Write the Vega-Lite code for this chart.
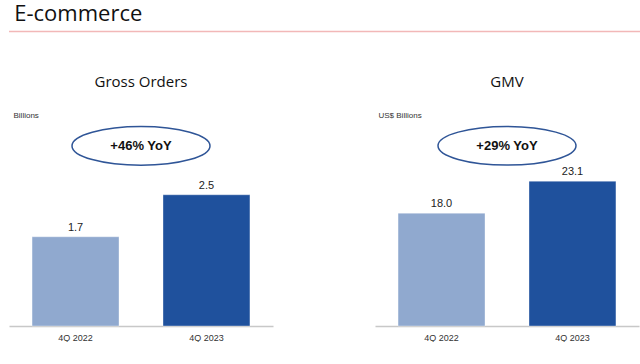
{
  "$schema": "https://vega.github.io/schema/vega-lite/v6.json",
  "background": "white",
  "padding": {"left": 8, "top": 2, "right": 0, "bottom": 0},
  "spacing": 42,
  "config": {
    "view": {"stroke": null},
    "font": "Liberation Sans"
  },
  "vconcat": [
    {
      "title": {"text": "E-commerce", "anchor": "start", "font": "Open Sans", "fontSize": 22, "fontWeight": "normal", "color": "#111111", "offset": 5, "dx": 6},
      "width": 632,
      "height": 1,
      "data": {"values": [{"a": 0, "b": 1}]},
      "mark": {"type": "rule", "color": "#F2B8B8", "strokeWidth": 1.5},
      "encoding": {
        "x": {"field": "a", "type": "quantitative", "scale": {"domain": [0, 1]}, "axis": null},
        "x2": {"field": "b"}
      }
    },
    {
      "spacing": 102,
      "hconcat": [
        {
          "title": {"text": "Gross Orders", "font": "Open Sans", "fontSize": 15, "fontWeight": "normal", "color": "#111111", "offset": 21},
          "width": 264,
          "height": 210,
          "data": {"values": [
            {"period": "4Q 2022", "value": 1.7, "label": "1.7"},
            {"period": "4Q 2023", "value": 2.5, "label": "2.5"}
          ]},
          "layer": [
            {
              "mark": {"type": "bar", "stroke": "#FFFFFF", "strokeWidth": 0.6, "strokeOpacity": 0.6},
              "encoding": {
                "x": {"field": "period", "type": "nominal", "scale": {"paddingInner": 0.336, "paddingOuter": 0.176},
                      "axis": {"title": null, "labelAngle": 0, "ticks": false, "domainColor": "#C8C8C8", "domainWidth": 1.5, "labelFontSize": 9, "labelColor": "#333333", "labelPadding": 7}},
                "y": {"field": "value", "type": "quantitative", "scale": {"domain": [0, 4], "nice": false},
                      "axis": {"title": "Billions", "titleAngle": 0, "titleAlign": "left", "titleBaseline": "middle", "titleX": 4, "titleY": -1, "titleFontSize": 8, "titleFontWeight": "normal", "titleColor": "#333333", "labels": false, "ticks": false, "domain": false, "grid": false}},
                "color": {"field": "period", "type": "nominal", "scale": {"domain": ["4Q 2022", "4Q 2023"], "range": ["#90A9CF", "#1F519D"]}, "legend": null}
              }
            },
            {
              "mark": {"type": "text", "dy": -9, "fontSize": 11, "color": "#222222"},
              "encoding": {
                "x": {"field": "period", "type": "nominal"},
                "y": {"field": "value", "type": "quantitative"},
                "text": {"field": "label"}
              }
            },
            {
              "data": {"values": [{"y": 3.43, "t": "+46% YoY"}]},
              "layer": [
                {
                  "mark": {"type": "point", "clip": true, "shape": "M -1 0 A 1 0.28 0 1 1 1 0 A 1 0.28 0 1 1 -1 0 Z", "size": 19044, "filled": false, "stroke": "#2F5597", "strokeWidth": 1.5, "opacity": 1},
                  "encoding": {"y": {"field": "y", "type": "quantitative"}}
                },
                {
                  "mark": {"type": "text", "fontSize": 13, "fontWeight": "bold", "color": "#111111"},
                  "encoding": {"y": {"field": "y", "type": "quantitative"}, "text": {"field": "t"}}
                }
              ]
            }
          ]
        },
        {
          "title": {"text": "GMV", "font": "Open Sans", "fontSize": 15, "fontWeight": "normal", "color": "#111111", "offset": 21},
          "width": 264,
          "height": 210,
          "data": {"values": [
            {"period": "4Q 2022", "value": 18.0, "label": "18.0"},
            {"period": "4Q 2023", "value": 23.1, "label": "23.1"}
          ]},
          "layer": [
            {
              "mark": {"type": "bar", "stroke": "#FFFFFF", "strokeWidth": 0.6, "strokeOpacity": 0.6},
              "encoding": {
                "x": {"field": "period", "type": "nominal", "scale": {"paddingInner": 0.336, "paddingOuter": 0.176},
                      "axis": {"title": null, "labelAngle": 0, "ticks": false, "domainColor": "#C8C8C8", "domainWidth": 1.5, "labelFontSize": 9, "labelColor": "#333333", "labelPadding": 7}},
                "y": {"field": "value", "type": "quantitative", "scale": {"domain": [0, 33.5], "nice": false},
                      "axis": {"title": "US$ Billions", "titleAngle": 0, "titleAlign": "left", "titleBaseline": "middle", "titleX": 3, "titleY": -1, "titleFontSize": 8, "titleFontWeight": "normal", "titleColor": "#333333", "labels": false, "ticks": false, "domain": false, "grid": false}},
                "color": {"field": "period", "type": "nominal", "scale": {"domain": ["4Q 2022", "4Q 2023"], "range": ["#90A9CF", "#1F519D"]}, "legend": null}
              }
            },
            {
              "mark": {"type": "text", "dy": -9, "fontSize": 11, "color": "#222222"},
              "encoding": {
                "x": {"field": "period", "type": "nominal"},
                "y": {"field": "value", "type": "quantitative"},
                "text": {"field": "label"}
              }
            },
            {
              "data": {"values": [{"y": 28.75, "t": "+29% YoY"}]},
              "layer": [
                {
                  "mark": {"type": "point", "clip": true, "shape": "M -1 0 A 1 0.28 0 1 1 1 0 A 1 0.28 0 1 1 -1 0 Z", "size": 19044, "filled": false, "stroke": "#2F5597", "strokeWidth": 1.5, "opacity": 1},
                  "encoding": {"y": {"field": "y", "type": "quantitative"}}
                },
                {
                  "mark": {"type": "text", "fontSize": 13, "fontWeight": "bold", "color": "#111111"},
                  "encoding": {"y": {"field": "y", "type": "quantitative"}, "text": {"field": "t"}}
                }
              ]
            }
          ]
        }
      ]
    }
  ]
}
